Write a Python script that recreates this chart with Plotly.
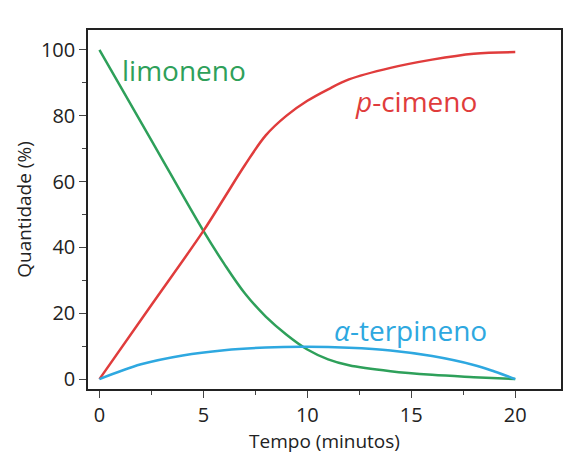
import plotly.graph_objects as go

t_lim = [0, 2.5, 5, 6, 7, 8, 9, 10, 11, 12, 14, 16, 18, 20]
limoneno = [100, 72.5, 45, 35, 26, 19, 13.5, 9, 6, 4.2, 2.4, 1.3, 0.6, 0]
t_pc = [0, 2.5, 5, 6, 7, 8, 9, 10, 11, 12, 14, 16, 18, 20]
pcimeno = [0, 22.5, 45, 55, 65, 74, 80, 84.5, 88, 91, 94.5, 97, 98.8, 99.3]
t_a = [0, 2, 4, 6, 8, 10, 12, 14, 16, 18, 19, 20]
aterp = [0, 4.5, 7.2, 8.8, 9.6, 9.8, 9.5, 8.7, 7.0, 4.3, 2.3, 0]

fig = go.Figure()
fig.add_trace(go.Scatter(x=t_lim, y=limoneno, mode="lines", line=dict(color="#2ea05a", width=2.5, shape="spline")))
fig.add_trace(go.Scatter(x=t_pc, y=pcimeno, mode="lines", line=dict(color="#e03c3c", width=2.5, shape="spline")))
fig.add_trace(go.Scatter(x=t_a, y=aterp, mode="lines", line=dict(color="#2ea8e0", width=2.5, shape="spline")))

fig.add_annotation(x=1.0, y=94, text="limoneno", showarrow=False, xanchor="left", font=dict(size=28, color="#2ea05a"))
fig.add_annotation(x=12.2, y=84.5, text="<i>p</i>-cimeno", showarrow=False, xanchor="left", font=dict(size=28, color="#e03c3c"))
fig.add_annotation(x=11.2, y=15, text="<i>α</i>-terpineno", showarrow=False, xanchor="left", font=dict(size=28, color="#2ea8e0"))

fig.update_layout(
    width=585, height=458, showlegend=False, plot_bgcolor="white", paper_bgcolor="white",
    margin=dict(l=80, r=32, t=22, b=77),
    font=dict(family="Open Sans", size=20, color="#222"),
)
fig.update_xaxes(range=[-0.55, 22.2], tickvals=[0, 5, 10, 15, 20], ticks="outside", ticklen=7,
                 minor=dict(dtick=2.5, ticks="outside", ticklen=4), showgrid=False, zeroline=False,
                 showline=True, linecolor="#222", linewidth=1.5, mirror=True,
                 title=dict(text="Tempo (minutos)", font=dict(size=19), standoff=6))
fig.update_yaxes(range=[-3, 106], tickvals=[0, 20, 40, 60, 80, 100], ticks="outside", ticklen=7,
                 minor=dict(dtick=10, ticks="outside", ticklen=4), showgrid=False, zeroline=False,
                 showline=True, linecolor="#222", linewidth=1.5, mirror=True,
                 title=dict(text="Quantidade (%)", font=dict(size=19), standoff=4))
fig.write_html("out.html")
